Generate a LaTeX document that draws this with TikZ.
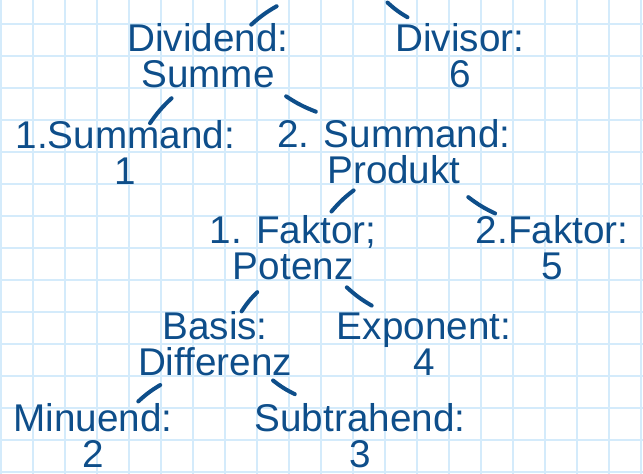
\documentclass[tikz,border=0pt]{standalone}
\usepackage{fontspec}
\setmainfont{Liberation Sans}
\usetikzlibrary{calc}
\definecolor{ink}{RGB}{14,78,138}
\definecolor{paper}{RGB}{212,235,251}

\begin{document}
\begin{tikzpicture}[x=24pt, y=24pt,
        term/.style={align=center, text=ink, font=\fontsize{29}{27}\selectfont, inner sep=1pt},
        twig/.style={draw=ink, line width=3pt, line cap=round}]
    \useasboundingbox (-0.03125,-0.0625) rectangle (20.0625,14.75);
    \draw[paper, line width=2pt, step=1] (-0.03125,-0.0625) grid (20.0625,14.75);
    % the quotient sits above the sheet
    \coordinate (quot) at (10.44,15.88);
    \node[term] (dividend) at (6.47,13) {Dividend:\\Summe};
    \node[term] (divisor) at (14.34,13) {Divisor:\\6};
    \node[term] (sum1) at (3.88,10) {1.Summand:\\1};
    \node[term] (sum2) at (12.28,10) {2. Summand:\\Produkt};
    \node[term] (fac1) at (9.13,7) {1. Faktor;\\Potenz};
    \node[term] (fac2) at (17.22,7) {2.Faktor:\\5};
    \node[term] (basis) at (6.69,4) {Basis:\\Differenz};
    \node[term] (expo) at (13.22,4) {Exponent:\\4};
    \node[term] (minu) at (2.88,1.15) {Minuend:\\2};
    \node[term] (subt) at (11.22,1.15) {Subtrahend:\\3};
    % short strokes between the levels
    \draw[twig] ($(quot)!.46!(dividend)$) to[bend right=6] ($(quot)!.66!(dividend)$);
    \draw[twig] ($(quot)!.42!(divisor)$) to[bend right=6] ($(quot)!.58!(divisor)$);
    \draw[twig] ($(dividend)!.44!(sum1)$) to[bend right=6] ($(dividend)!.70!(sum1)$);
    \draw[twig] ($(dividend)!.42!(sum2)$) to[bend right=6] ($(dividend)!.58!(sum2)$);
    \draw[twig] ($(sum2)!.40!(fac1)$) to[bend right=6] ($(sum2)!.62!(fac1)$);
    \draw[twig] ($(sum2)!.47!(fac2)$) to[bend right=6] ($(sum2)!.64!(fac2)$);
    \draw[twig] ($(fac1)!.46!(basis)$) to[bend right=6] ($(fac1)!.66!(basis)$);
    \draw[twig] ($(fac1)!.41!(expo)$) to[bend right=6] ($(fac1)!.60!(expo)$);
    \draw[twig] ($(basis)!.45!(minu)$) to[bend right=6] ($(basis)!.63!(minu)$);
    \draw[twig] ($(basis)!.40!(subt)$) to[bend right=6] ($(basis)!.55!(subt)$);
\end{tikzpicture}
\end{document}
